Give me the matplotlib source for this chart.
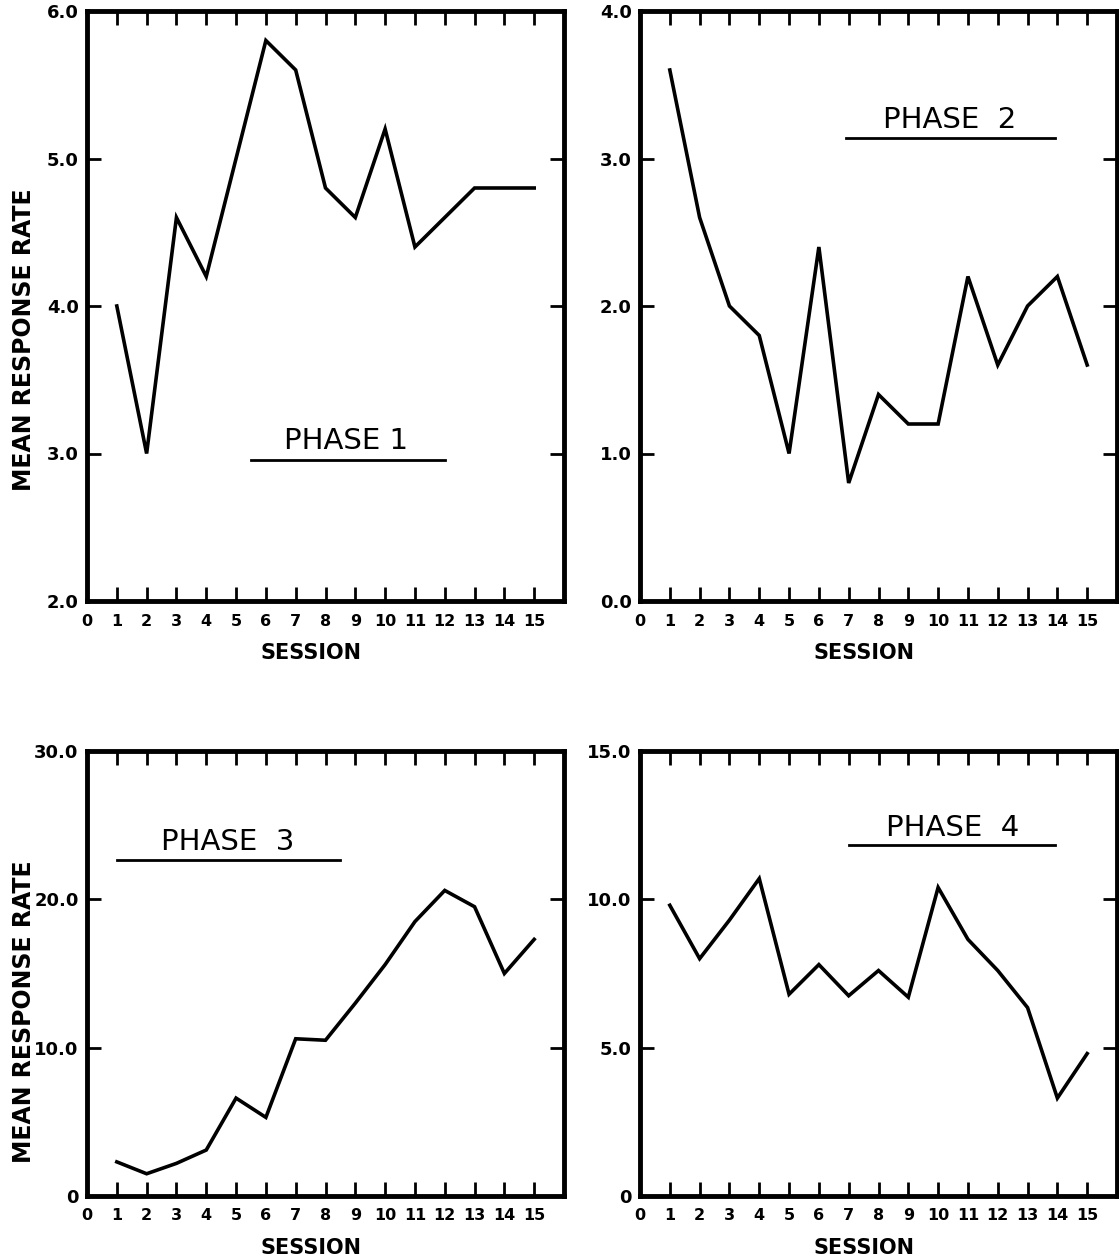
import numpy as np
import matplotlib.pyplot as plt

sessions = list(range(1, 16))

phase1 = [4.0, 3.0, 4.6, 4.2, 5.0, 5.8, 5.6, 4.8, 4.6, 5.2, 4.4, 4.6, 4.8, 4.8, 4.8]
phase2 = [3.6, 2.6, 2.0, 1.8, 1.0, 2.4, 0.8, 1.4, 1.2, 1.2, 2.2, 1.6, 2.0, 2.2, 1.6]
phase3 = [2.3, 1.5, 2.2, 3.1, 6.6, 5.3, 10.6, 10.5, 13.0, 15.6, 18.5, 20.6, 19.5, 15.0, 17.3]
phase4 = [9.8, 8.0, 9.3, 10.7, 6.8, 7.8, 6.75, 7.6, 6.7, 10.4, 8.65, 7.6, 6.35, 3.3, 4.8]

titles = ['PHASE 1', 'PHASE  2', 'PHASE  3', 'PHASE  4']
yticks = [[2, 3, 4, 5, 6], [0, 1, 2, 3, 4], [0, 10, 20, 30], [0, 5, 10, 15]]
ytick_labels = [['2.0', '3.0', '4.0', '5.0', '6.0'],
                ['0.0', '1.0', '2.0', '3.0', '4.0'],
                ['0', '10.0', '20.0', '30.0'],
                ['0', '5.0', '10.0', '15.0']]
xtick_labels = [str(i) for i in range(16)]

W, H = 1119, 1260
fig = plt.figure(figsize=(W / 100, H / 100), dpi=100)

# axes boxes in pixels: left, top, right, bottom
boxes = [(87, 11, 564, 601), (640, 11, 1117, 601),
         (87, 751, 564, 1196), (640, 751, 1117, 1196)]

# title text centre (axes fraction) and underline (x0, x1, y)
title_pos = [(0.544, 0.271), (0.65, 0.815), (0.294, 0.795), (0.656, 0.827)]
underline = [(0.344, 0.75, 0.239), (0.431, 0.869, 0.785),
             (0.0625, 0.531, 0.755), (0.4375, 0.869, 0.789)]

data = [phase1, phase2, phase3, phase4]

for i, (l, t, r, b) in enumerate(boxes):
    ax = fig.add_axes([l / W, (H - b) / H, (r - l) / W, (b - t) / H])
    ax.plot(sessions, data[i], color='black', lw=2.6, solid_joinstyle='miter')
    ax.set_xlim(0, 16)
    ax.set_ylim(yticks[i][0], yticks[i][-1])
    ax.set_xticks(range(16))
    ax.set_xticklabels(xtick_labels, fontsize=11.5, fontweight='bold')
    ax.set_yticks(yticks[i])
    ax.set_yticklabels(ytick_labels[i], fontsize=13, fontweight='bold')
    ax.tick_params(direction='in', length=10, width=2, top=True, right=True,
                   labeltop=False, labelright=False)
    ax.tick_params(axis='x', pad=9)
    ax.tick_params(axis='y', pad=6)
    for s in ax.spines.values():
        s.set_linewidth(3.5)

    tx, ty = title_pos[i]
    ax.text(tx, ty, titles[i], transform=ax.transAxes, ha='center', va='center',
            fontsize=21)
    x0, x1, uy = underline[i]
    ax.plot([x0, x1], [uy, uy], transform=ax.transAxes, color='black', lw=2)

    ax.text(7.5 / 16, -52 / (b - t), 'SESSION', transform=ax.transAxes,
            ha='center', va='center', fontsize=15, fontweight='bold')

fig.text(24 / W, (H - 340) / H, 'MEAN RESPONSE RATE', rotation=90,
         ha='center', va='center', fontsize=17, fontweight='bold')
fig.text(24 / W, (H - 1012) / H, 'MEAN RESPONSE RATE', rotation=90,
         ha='center', va='center', fontsize=17, fontweight='bold')

fig.savefig('out.png', dpi=100)
